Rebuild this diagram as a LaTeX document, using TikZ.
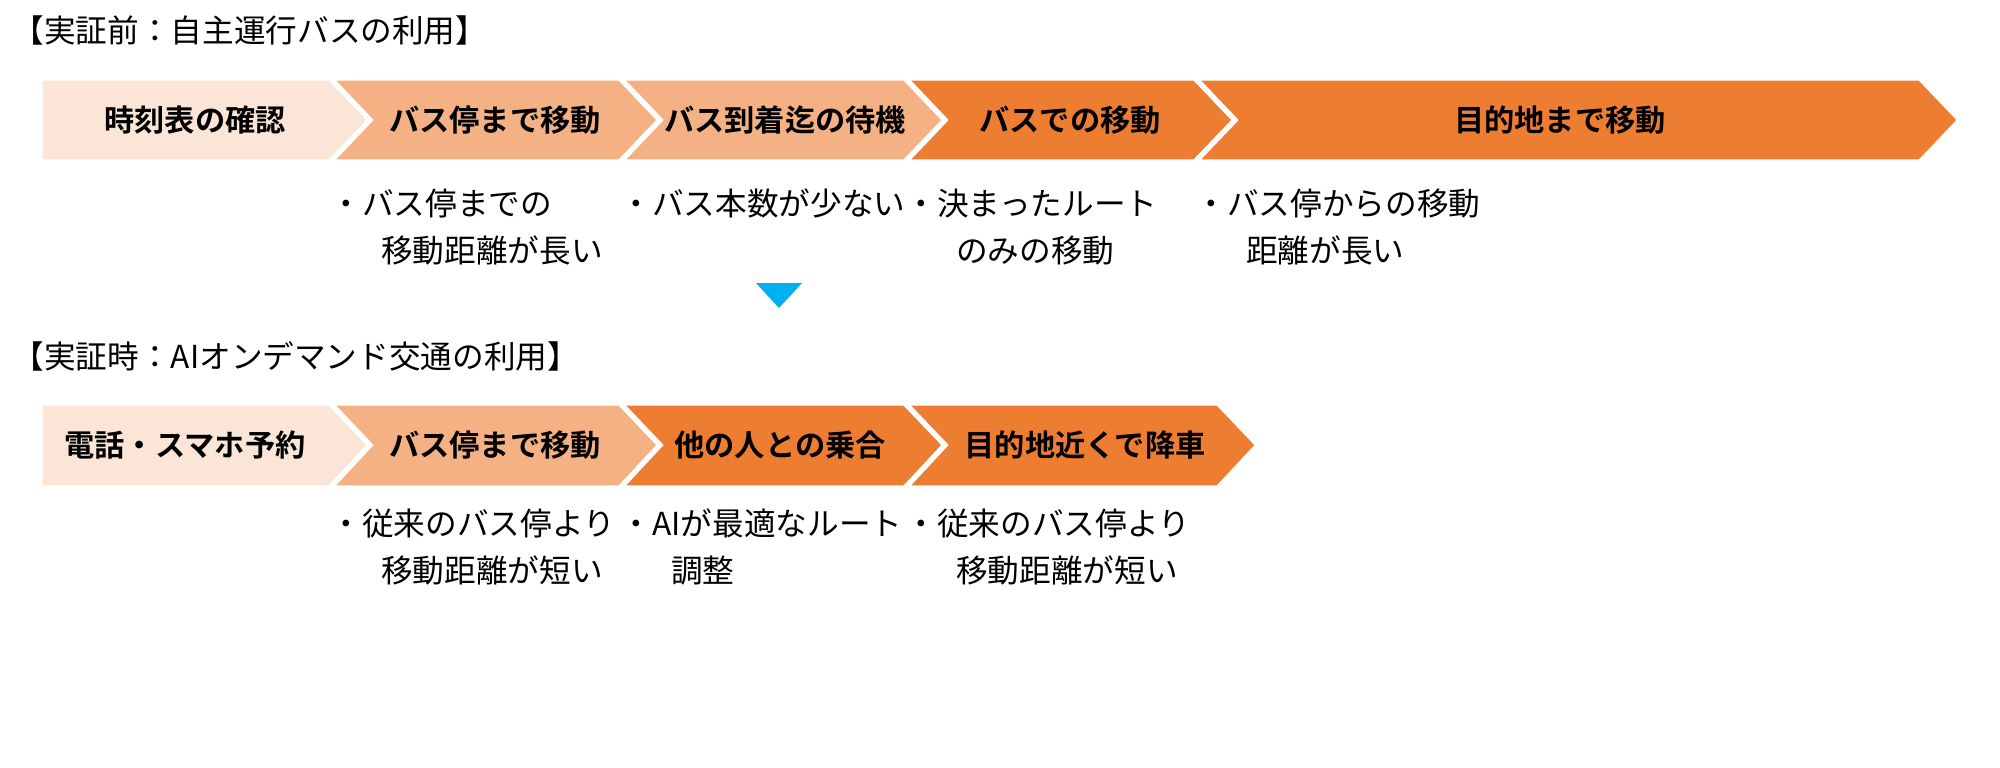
\documentclass[tikz,border=0pt]{standalone}
\usepackage{fontspec}
\setmainfont{Noto Sans CJK JP}
\newfontfamily\jpbold{Noto Sans CJK JP Bold}
\definecolor{lightor}{HTML}{FBE5D6}
\definecolor{midor}{HTML}{F4B183}
\definecolor{darkor}{HTML}{ED7D31}
\definecolor{tricyan}{HTML}{00B0F0}
\tikzset{
  steplabel/.style={font=\jpbold\fontsize{8.6}{10}\selectfont,inner sep=0pt},
  notetext/.style={font=\fontsize{9}{13.5}\selectfont,anchor=north west,align=left,inner sep=0pt},
  headtext/.style={font=\fontsize{9}{11}\selectfont,anchor=west,inner sep=0pt},
}
\begin{document}
\begin{tikzpicture}[x=0.2845pt,y=-0.2845pt]
            \fill[white] (0,0) rectangle (2000,767);
            \useasboundingbox (0,0) rectangle (2000,767);
            % Titles
            \node[headtext] (head1) at (12,30) {【実証前：自主運行バスの利用】};
            \node[headtext] (head2) at (12,356) {【実証時：AIオンデマンド交通の利用】};
            % Row 1 chevrons
            \foreach \a/\b/\col/\d in {40/330/lightor/0,330/620/midor/40,620/905/midor/40,905/1195/darkor/40,1195/1920/darkor/40}{
              \fill[\col,draw=white,line width=1.5pt] (\a,78)--(\b,78)--(\b+40,120)--(\b,162)--(\a,162)--(\a+\d,120)--cycle;
            }
            \node[steplabel] (a1) at (195,120) {時刻表の確認};
            \node[steplabel] (a2) at (495,120) {バス停まで移動};
            \node[steplabel] (a3) at (785,120) {バス到着迄の待機};
            \node[steplabel] (a4) at (1070,120) {バスでの移動};
            \node[steplabel] (a5) at (1560,120) {目的地まで移動};
            % Row 1 notes
            \node[notetext] (n2) at (330,188) {・バス停までの\\\hspace{1.6em}移動距離が長い};
            \node[notetext] (n3) at (620,188) {・バス本数が少ない};
            \node[notetext] (n4) at (905,188) {・決まったルート\\\hspace{1.6em}のみの移動};
            \node[notetext] (n5) at (1195,188) {・バス停からの移動\\\hspace{1.6em}距離が長い};
            % Arrow
            \fill[tricyan] (756,283)--(802,283)--(779,308)--cycle;
            % Row 2 chevrons
            \foreach \a/\b/\col/\d in {40/330/lightor/0,330/620/midor/40,620/905/darkor/40,905/1218/darkor/40}{
              \fill[\col,draw=white,line width=1.5pt] (\a,403)--(\b,403)--(\b+40,445)--(\b,488)--(\a,488)--(\a+\d,445)--cycle;
            }
            \node[steplabel] (b1) at (185,445) {電話・スマホ予約};
            \node[steplabel] (b2) at (495,445) {バス停まで移動};
            \node[steplabel] (b3) at (780,445) {他の人との乗合};
            \node[steplabel] (b4) at (1085,445) {目的地近くで降車};
            % Row 2 notes
            \node[notetext] (m2) at (330,508) {・従来のバス停より\\\hspace{1.6em}移動距離が短い};
            \node[notetext] (m3) at (620,508) {・AIが最適なルート\\\hspace{1.6em}調整};
            \node[notetext] (m4) at (905,508) {・従来のバス停より\\\hspace{1.6em}移動距離が短い};
\end{tikzpicture}
\end{document}
